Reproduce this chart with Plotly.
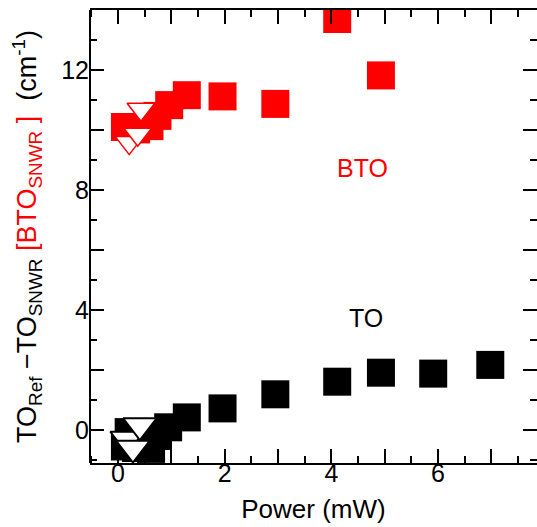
import plotly.graph_objects as go

# Raman shift differences vs. laser power
power_bto_sq = [0.13, 0.34, 0.59, 0.74, 0.96, 1.29, 1.96, 2.95, 4.11, 4.93]
shift_bto_sq = [10.10, 10.02, 10.13, 10.47, 10.83, 11.16, 11.12, 10.87, 13.70, 11.82]
power_bto_tri = [0.21, 0.37, 0.43]
shift_bto_tri = [9.58, 9.86, 10.69]

power_to_sq = [0.13, 0.20, 0.34, 0.62, 0.75, 0.94, 1.29, 1.96, 2.95, 4.11, 4.93, 5.91, 6.98]
shift_to_sq = [-0.55, -0.07, -0.60, -0.63, -0.20, 0.09, 0.42, 0.72, 1.19, 1.61, 1.91, 1.88, 2.17]
power_to_tri = [0.17, 0.28, 0.41]
shift_to_tri = [-0.30, -0.60, 0.15]

RED = "#ff0000"
FONT = "Liberation Sans, Arial, sans-serif"

fig = go.Figure()

fig.add_trace(go.Scatter(
    x=power_bto_sq, y=shift_bto_sq, mode="markers",
    marker=dict(symbol="square", size=28, color=RED, line=dict(width=0)),
))
fig.add_trace(go.Scatter(
    x=power_to_sq, y=shift_to_sq, mode="markers",
    marker=dict(symbol="square", size=28, color="black", line=dict(width=0)),
))
fig.add_trace(go.Scatter(
    x=power_bto_tri, y=shift_bto_tri, mode="markers",
    marker=dict(symbol="triangle-down", size=24, color="white",
                line=dict(width=1.5, color=RED)),
))
fig.add_trace(go.Scatter(
    x=power_to_tri, y=shift_to_tri, mode="markers",
    marker=dict(symbol="triangle-down", size=29, color="white",
                line=dict(width=2, color="black")),
))

fig.add_annotation(x=4.59, y=8.73, text="BTO", showarrow=False,
                   font=dict(family=FONT, size=25, color=RED))
fig.add_annotation(x=4.65, y=3.75, text="TO", showarrow=False,
                   font=dict(family=FONT, size=25, color="black"))

# left frame edge (right edge falls outside the drawing area)
fig.add_shape(type="line", xref="paper", yref="paper", x0=0, x1=0, y0=0, y1=1,
              line=dict(color="black", width=2))

ytitle = ("TO<sub>Ref</sub> \u2212TO<sub>SNWR</sub> "
          "<span style=\"color:#ff0000\">[BTO<sub>SNWR</sub> ]</span>  "
          "(cm<sup>-1</sup>)")

fig.update_layout(
    width=537, height=527,
    margin=dict(l=90, r=0, t=10, b=64),
    paper_bgcolor="white", plot_bgcolor="white",
    showlegend=False,
    font=dict(family=FONT, size=25, color="black"),
    xaxis=dict(
        range=[-0.525, 7.856], tick0=0, dtick=1, ticklabelstep=2,
        ticks="inside", ticklen=14, tickwidth=2, tickcolor="black",
        minor=dict(dtick=0.5, ticks="inside", ticklen=7, tickwidth=2, tickcolor="black"),
        showline=True, linewidth=2, linecolor="black", mirror="ticks",
        showgrid=False, zeroline=False,
        tickfont=dict(size=25), ticklabelstandoff=-13,
        title=dict(text="Power (mW)", font=dict(size=26), standoff=14),
    ),
    yaxis=dict(
        range=[-1.1, 14.0], tick0=0, dtick=2, ticklabelstep=2,
        ticks="inside", ticklen=14, tickwidth=2, tickcolor="black",
        minor=dict(dtick=1, ticks="inside", ticklen=7, tickwidth=2, tickcolor="black"),
        showline=False, mirror="ticks",
        showgrid=False, zeroline=False,
        tickfont=dict(size=25),
        title=dict(text=ytitle, font=dict(size=27), standoff=16),
    ),
)

fig.write_html("out.html")
